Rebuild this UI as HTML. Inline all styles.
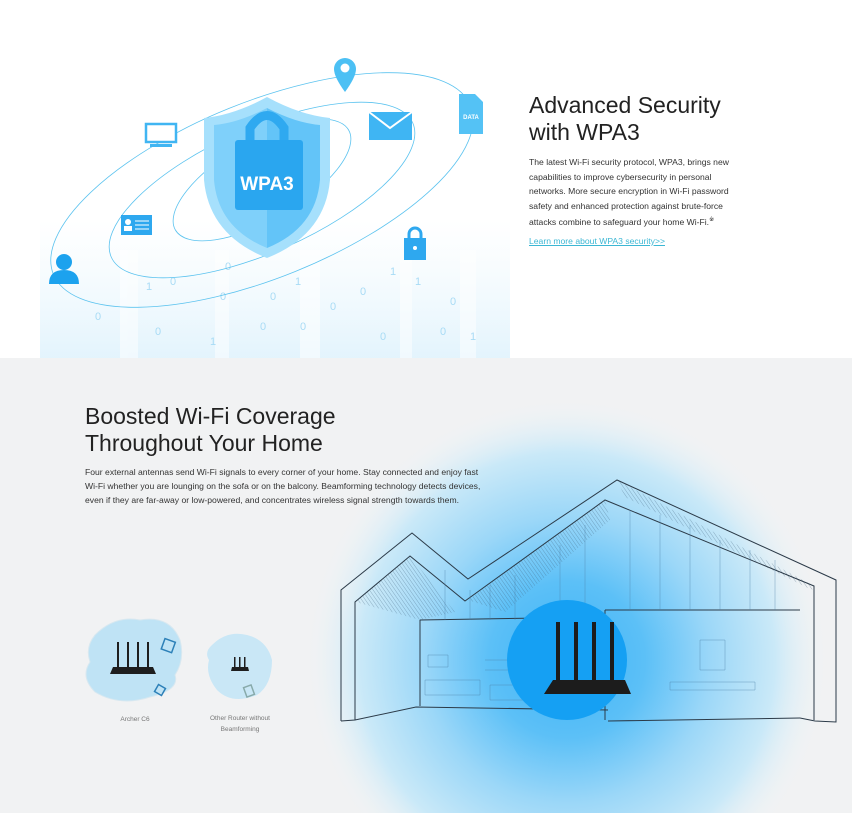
<!DOCTYPE html>
<html style="overflow:hidden"><head><meta charset="utf-8"><style>
html,body{margin:0;width:852px;height:813px;overflow:hidden;background:#fff;font-family:"Liberation Sans",sans-serif;}
.top{position:absolute;left:0;top:0;width:852px;height:358px;background:#fff}
.bot{position:absolute;left:0;top:358px;width:852px;height:455px;background:#f1f2f3}
h2{margin:0;font-weight:400;color:#222;}
.t{position:absolute;color:#333;font-size:8.6px;line-height:14.5px}
</style></head><body>
<div class="top"></div>
<div class="bot"></div>
<svg width="852" height="813" style="position:absolute;left:0;top:0">
<defs>
<linearGradient id="fade" x1="0" y1="0" x2="0" y2="1"><stop offset="0" stop-color="#e8f6fd" stop-opacity="0"/><stop offset="1" stop-color="#dcf1fc" stop-opacity="0.8"/></linearGradient>
<radialGradient id="wifi" cx="567" cy="660" r="260" gradientUnits="userSpaceOnUse">
<stop offset="0" stop-color="#3eb3f6"/><stop offset="0.3" stop-color="#5cc0f7"/><stop offset="0.55" stop-color="#9bd7f8"/><stop offset="0.8" stop-color="#cae9f8"/><stop offset="1" stop-color="#eef4f7" stop-opacity="0"/></radialGradient>
<linearGradient id="sh" x1="0" y1="0" x2="1" y2="0"><stop offset="0.5" stop-color="#7fd0fa"/><stop offset="0.5" stop-color="#63c4f8"/></linearGradient>
<pattern id="hatch" width="3" height="3" patternUnits="userSpaceOnUse" patternTransform="rotate(-35)"><line x1="0" y1="0" x2="0" y2="3" stroke="#3a5a75" stroke-width="0.6"/></pattern>
</defs>
<rect x="40" y="220" width="470" height="138" fill="url(#fade)"/>
<g fill="#fff" opacity="0.5"><rect x="120" y="250" width="18" height="108"/><rect x="215" y="250" width="14" height="108"/><rect x="300" y="250" width="20" height="108"/><rect x="400" y="250" width="12" height="108"/><rect x="460" y="250" width="16" height="108"/></g>
<g fill="#a8dbf5" font-size="11" font-family="Liberation Sans">
<text x="225" y="270">0</text><text x="170" y="285">0</text><text x="146" y="290">1</text><text x="270" y="300">0</text><text x="295" y="285">1</text><text x="360" y="295">0</text><text x="390" y="275">1</text><text x="330" y="310">0</text><text x="415" y="285">1</text><text x="450" y="305">0</text><text x="260" y="330">0</text><text x="300" y="330">0</text><text x="380" y="340">0</text><text x="210" y="345">1</text><text x="155" y="335">0</text><text x="95" y="320">0</text><text x="440" y="335">0</text><text x="470" y="340">1</text><text x="220" y="300">0</text>
</g>
<g fill="none" stroke="#5cc3ef" stroke-width="0.8">
<ellipse cx="262" cy="190" rx="225" ry="88" transform="rotate(-22 262 190)"/>
<ellipse cx="262" cy="190" rx="165" ry="62" transform="rotate(-24 262 190)"/>
<ellipse cx="262" cy="180" rx="100" ry="40" transform="rotate(-30 262 180)"/>
</g>
<path d="M267 97 Q300 115 330 118 L330 180 Q325 235 267 258 Q209 235 204 180 L204 118 Q234 115 267 97Z" fill="#a6e0fc"/>
<path d="M267 108 Q296 123 320 125 L320 180 Q316 228 267 248 Q218 228 214 180 L214 125 Q238 123 267 108Z" fill="url(#sh)"/>
<path d="M250 145 V128 Q267 103 284 128 V145" fill="none" stroke="#2fa9f0" stroke-width="9"/>
<rect x="235" y="140" width="68" height="70" rx="3" fill="#2aa6ef"/>
<text x="267" y="190" text-anchor="middle" font-size="19" font-weight="700" fill="#fff" font-family="Liberation Sans">WPA3</text>
<path d="M345 58 a11 11 0 0 1 11 11 q0 8 -11 23 q-11 -15 -11 -23 a11 11 0 0 1 11 -11z" fill="#4cc0f4"/><circle cx="345" cy="68" r="4.5" fill="#fff"/>
<rect x="369" y="112" width="43" height="28" fill="#3fb5f3"/><path d="M369 112 L390 128 L412 112" fill="none" stroke="#fff" stroke-width="2"/>
<path d="M459 94 h16 l8 8 v32 h-24z" fill="#54c2f5"/><text x="471" y="119" font-size="6" fill="#fff" text-anchor="middle" font-weight="700">DATA</text>
<rect x="146" y="124" width="30" height="18" fill="#fff" stroke="#40b5f2" stroke-width="2.5"/><rect x="150" y="144" width="22" height="3" fill="#40b5f2"/>
<rect x="121" y="215" width="31" height="20" fill="#2ea8ef"/><circle cx="128" cy="222" r="3" fill="#fff"/><rect x="124" y="226" width="8" height="5" fill="#fff"/><g stroke="#fff"><line x1="135" y1="221" x2="149" y2="221"/><line x1="135" y1="225" x2="149" y2="225"/><line x1="135" y1="229" x2="149" y2="229"/></g>
<path d="M409 240 v-6 a6 6 0 0 1 12 0 v6" fill="none" stroke="#2ea8ef" stroke-width="3"/><rect x="404" y="238" width="22" height="22" fill="#2ea8ef"/><circle cx="415" cy="248" r="2" fill="#fff"/>
<circle cx="64" cy="262" r="8" fill="#1ca2ee"/><path d="M49 284 q0 -14 15 -14 q15 0 15 14z" fill="#1ca2ee"/>
<circle cx="567" cy="660" r="260" fill="url(#wifi)"/>
<path d="M356 602 L410 556 L455 612 L420 620Z" fill="url(#hatch)" opacity="0.7"/>
<path d="M468 600 L605 500 L610 520 L505 612Z" fill="url(#hatch)" opacity="0.7"/>
<path d="M617 480 L814 586 L812 590 L625 497Z" fill="url(#hatch)" opacity="0.7"/>
<g fill="none" stroke="#2b3a48" stroke-width="1">
<path d="M341 721 V590 L412 533 L468 579 L617 480 L836 580 V722 L815 721 L800 718"/>
<path d="M355 720 V602 L410 556 L465 601 L605 500 L814 586 V720"/>
<path d="M341 721 L355 720 L416 707 L608 710 M608 721 L800 718"/>
<path d="M420 620 L540 618 M605 610 L800 610 M420 620 V706 M605 610 V720"/>
</g>
<g stroke="#4a7fa5" stroke-width="0.5" opacity="0.7" fill="none">
<path d="M445 570 V620 M470 590 V620 M490 585 V620 M515 575 V620 M560 545 V620 M585 525 V620 M630 510 V610 M660 515 V610 M690 525 V610 M720 540 V610 M750 550 V610 M775 560 V610"/>
<path d="M425 680 h55 v15 h-55z M490 685 h50 v15 h-50z M670 682 h85 v8 h-85z M700 640 h25 v30 h-25z M428 655 h20 v12 h-20z M485 660 h25 M485 670 h25"/>
</g>
<circle cx="567" cy="660" r="60" fill="#15a0f3"/>
<g fill="#1c1c1c"><rect x="556" y="622" width="4" height="58"/><rect x="574" y="622" width="4" height="58"/><rect x="592" y="622" width="4" height="58"/><rect x="610" y="622" width="4" height="58"/>
<path d="M553 680 H625 L631 694 H544Z"/></g>
<path d="M95 635 q20 -20 45 -15 q30 -5 40 20 q5 20 -5 35 q5 15 -25 22 q-30 10 -55 -5 q-15 -15 -5 -30 q-5 -15 5 -27z" fill="#bfe3f5" stroke="#d8e8f0"/>
<path d="M212 645 q15 -15 35 -10 q20 5 25 25 q0 25 -15 35 q-25 10 -40 -5 q-12 -15 -8 -30 q-5 -8 3 -15z" fill="#c9e7f6"/>
<g fill="#1e1e1e"><rect x="117" y="642" width="2" height="25"/><rect x="127" y="642" width="2" height="25"/><rect x="137" y="642" width="2" height="25"/><rect x="147" y="642" width="2" height="25"/><path d="M113 667 h40 l3 7 h-46z"/>
<rect x="234" y="657" width="1.5" height="10"/><rect x="239" y="657" width="1.5" height="10"/><rect x="244" y="657" width="1.5" height="10"/><path d="M232 667 h16 l1 4 h-18z"/></g>
<g fill="none" stroke="#2c80b8" stroke-width="1.5"><rect x="163" y="640" width="11" height="11" transform="rotate(20 168 645)"/><rect x="156" y="686" width="8" height="8" transform="rotate(30 160 690)"/><rect x="245" y="686" width="8" height="10" transform="rotate(-20 249 691)" stroke="#8aa"/></g>
</svg>
<h2 style="position:absolute;left:529px;top:92px;font-size:23px;line-height:27px">Advanced Security<br>with WPA3</h2>
<div class="t" style="left:529px;top:155px;width:220px">The latest Wi-Fi security protocol, WPA3, brings new capabilities to improve cybersecurity in personal networks. More secure encryption in Wi-Fi password safety and enhanced protection against brute-force attacks combine to safeguard your home Wi-Fi.<sup style="font-size:6px">※</sup></div>
<div class="t" style="left:529px;top:234px;color:#3cb7d4;text-decoration:underline">Learn more about WPA3 security&gt;&gt;</div>
<h2 style="position:absolute;left:85px;top:403px;font-size:23px;line-height:27px">Boosted Wi-Fi Coverage<br>Throughout Your Home</h2>
<div class="t" style="left:85px;top:465px;width:396px;line-height:14px">Four external antennas send Wi-Fi signals to every corner of your home. Stay connected and enjoy fast Wi-Fi whether you are lounging on the sofa or on the balcony. Beamforming technology detects devices, even if they are far-away or low-powered, and concentrates wireless signal strength towards them.</div>
<div class="t" style="left:105px;top:713px;width:60px;text-align:center;font-size:6.5px;color:#777">Archer C6</div>
<div class="t" style="left:200px;top:713px;width:80px;text-align:center;font-size:6.5px;color:#777;line-height:11px">Other Router without Beamforming</div>
</body></html>
